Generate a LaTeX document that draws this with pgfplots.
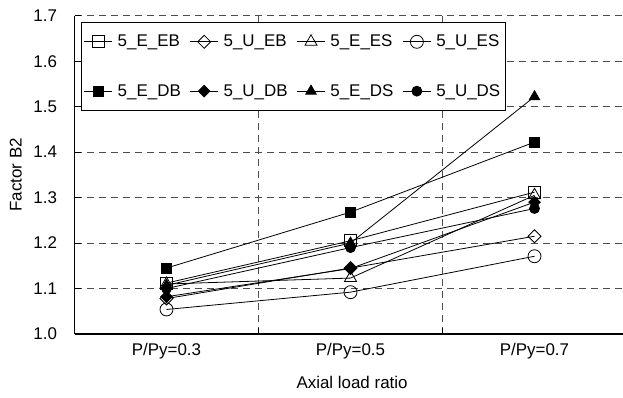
\documentclass[border=0pt]{standalone}
\usepackage{pgfplots}
\pgfplotsset{compat=1.18}
\usepackage{fontspec}
\setmainfont{Liberation Sans}
\newcommand{\fs}{\fontsize{17}{20}\selectfont}
\begin{document}
\begin{tikzpicture}[x=1bp,y=1bp]
\useasboundingbox (-74.5,-63) rectangle (548.5,334);
\begin{axis}[
  at={(0,0)}, anchor=south west,
  scale only axis, width=548.5bp, height=318.3bp,
  xmin=-0.5, xmax=2.481, ymin=1.0, ymax=1.7,
  axis x line*=bottom, axis y line*=left,
  axis line style={line width=1.2bp, black},
  xtick={0,1,2}, xticklabels={P/Py=0.3,P/Py=0.5,P/Py=0.7},
  major x tick style={draw=none},
  minor xtick={0.5,1.5},
  xminorgrids,
  ytick={1.0,1.1,1.2,1.3,1.4,1.5,1.6,1.7},
  ymajorgrids,
  major grid style={black!70, dash pattern=on 7bp off 5bp, line width=0.9bp},
  minor grid style={black!70, dash pattern=on 7bp off 5bp, line width=0.9bp},
  tick align=inside,
  major tick length=6bp, minor tick length=6bp,
  tick style={black, line width=0.8bp},
  every tick label/.append style={font=\fs},
  /pgf/number format/assume math mode=true,
  yticklabel style={/pgf/number format/.cd, fixed, fixed zerofill, precision=1, /tikz/.cd, xshift=-14bp},
  xticklabel style={yshift=-6bp},
  xlabel={Axial load ratio},
  xlabel style={font=\fs, at={(axis description cs:0.506,-0.151)}, anchor=center},
  ylabel={Factor B2},
  ylabel style={font=\fs, at={(axis description cs:-0.107,0.5)}, anchor=center},
  legend columns=4,
  legend cell align=left,
  legend style={at={(rel axis cs:0.011,0.981)}, anchor=north west, draw=black, line width=0.8bp,
    fill=white, font=\fs, inner xsep=3bp, inner ysep=0bp, row sep=10bp,
    nodes={inner ysep=13bp},
    /tikz/every even column/.append style={column sep=7bp},
    /tikz/every odd column/.append style={column sep=3bp}},
  legend image code/.code={\draw[mark repeat=2,mark phase=2,#1] plot coordinates {(0bp,0bp) (14bp,0bp) (28bp,0bp)};},
]
\addplot[black, line width=0.8bp, mark=square, mark size=6bp, mark options={fill=white, solid}] coordinates {(0,1.112)(1,1.205)(2,1.312)};
\addlegendentry{5\_E\_EB}
\addplot[black, line width=0.8bp, mark=square, mark size=4.6bp, mark options={fill=white, solid, rotate=45}] coordinates {(0,1.078)(1,1.145)(2,1.215)};
\addlegendentry{5\_U\_EB}
\addplot[black, line width=0.8bp, mark=triangle, mark size=7bp, mark options={fill=white, solid}] coordinates {(0,1.110)(1,1.123)(2,1.305)};
\addlegendentry{5\_E\_ES}
\addplot[black, line width=0.8bp, mark=o, mark size=6.5bp, mark options={fill=white, solid}] coordinates {(0,1.054)(1,1.092)(2,1.171)};
\addlegendentry{5\_U\_ES}
\addplot[black, line width=0.8bp, mark=square*, mark size=5bp, mark options={fill=black, solid}] coordinates {(0,1.145)(1,1.268)(2,1.422)};
\addlegendentry{5\_E\_DB}
\addplot[black, line width=0.8bp, mark=square*, mark size=4.1bp, mark options={fill=black, solid, rotate=45}] coordinates {(0,1.082)(1,1.144)(2,1.290)};
\addlegendentry{5\_U\_DB}
\addplot[black, line width=0.8bp, mark=triangle*, mark size=6bp, mark options={fill=black, solid}] coordinates {(0,1.107)(1,1.200)(2,1.522)};
\addlegendentry{5\_E\_DS}
\addplot[black, line width=0.8bp, mark=*, mark size=5bp, mark options={fill=black, solid}] coordinates {(0,1.100)(1,1.190)(2,1.276)};
\addlegendentry{5\_U\_DS}
\end{axis}
\end{tikzpicture}
\end{document}
